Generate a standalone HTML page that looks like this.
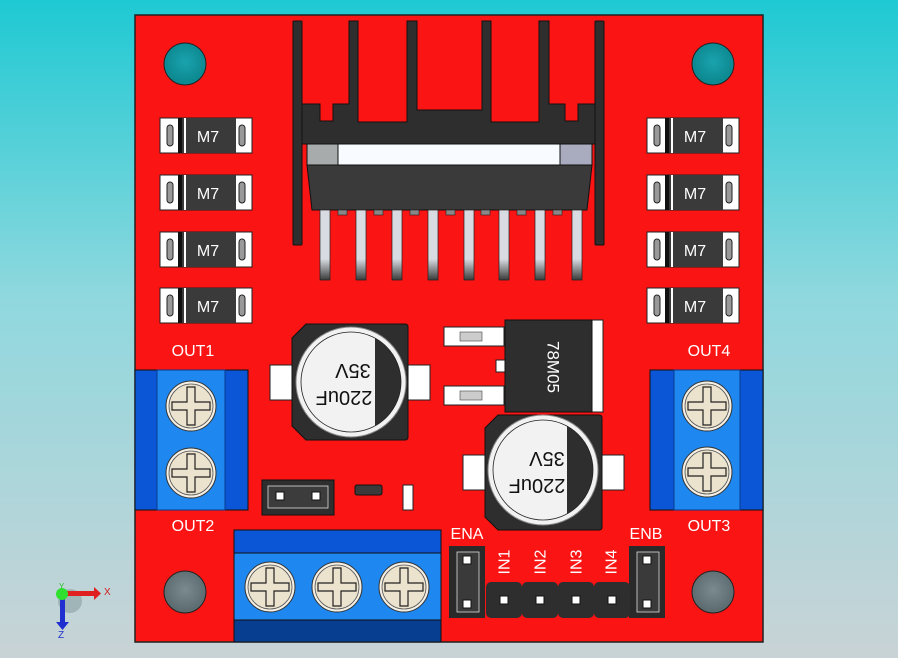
<!DOCTYPE html>
<html><head><style>html,body{margin:0;padding:0;}body{width:898px;height:658px;overflow:hidden;}</style></head>
<body>
<svg width="898" height="658" viewBox="0 0 898 658" xmlns="http://www.w3.org/2000/svg" font-family="Liberation Sans, sans-serif">
<defs>
<linearGradient id="bg" x1="0" y1="0" x2="0" y2="1">
<stop offset="0" stop-color="#1ec9d3"/><stop offset="0.45" stop-color="#8fd8de"/><stop offset="1" stop-color="#c9d3d6"/>
</linearGradient>
<linearGradient id="pin" x1="0" y1="0" x2="0" y2="1">
<stop offset="0" stop-color="#d8dce2"/><stop offset="0.7" stop-color="#d8dce2"/><stop offset="1" stop-color="#3a3a3a"/>
</linearGradient>
<radialGradient id="hole" cx="0.5" cy="0.45" r="0.5"><stop offset="0" stop-color="#1aa3ad"/><stop offset="1" stop-color="#0c8890"/></radialGradient>
<radialGradient id="ghole" cx="0.5" cy="0.45" r="0.5"><stop offset="0" stop-color="#7a8a8e"/><stop offset="1" stop-color="#5d6c70"/></radialGradient>
<clipPath id="c1"><circle cx="351" cy="382" r="50"/></clipPath>
<clipPath id="c2"><circle cx="543" cy="470" r="50"/></clipPath>
<g id="screw">
<circle r="25" fill="#f4efe4" stroke="#333" stroke-width="1"/>
<circle r="22" fill="#ece3cf" stroke="#555" stroke-width="0.8"/>
<path d="M-4,-19 H4 V-4 H19 V4 H4 V19 H-4 V4 H-19 V-4 H-4 Z" fill="#ece3cf" stroke="#222" stroke-width="1.2"/>
</g>
<g id="diode">
<rect x="0" y="0" width="92" height="35" fill="#fff" stroke="#222" stroke-width="1"/>
<rect x="18" y="0" width="58" height="35" fill="#3a3a3a"/>
<rect x="18" y="0" width="4" height="35" fill="#111"/>
<rect x="24" y="0" width="2" height="35" fill="#fff"/>
<rect x="7" y="7" width="6" height="21" rx="3" fill="#999" stroke="#222"/>
<rect x="79" y="7" width="6" height="21" rx="3" fill="#999" stroke="#222"/>
<text x="48" y="24" font-size="16" fill="#fff" text-anchor="middle">M7</text>
</g>
<g id="hdr">
<rect x="0" y="0" width="36" height="36" rx="5" fill="#2e2e2e"/>
<rect x="14" y="14" width="8" height="8" fill="#fff" stroke="#111"/>
</g>
<g id="jmp">
<rect x="0" y="0" width="36" height="72" fill="#2a2a2a"/>
<rect x="8" y="6" width="22" height="60" fill="#3a3a3a" stroke="#ddd" stroke-width="0.8"/>
<rect x="14" y="10" width="8" height="8" fill="#fff" stroke="#111"/>
<rect x="14" y="54" width="8" height="8" fill="#fff" stroke="#111"/>
</g>
</defs>
<rect width="898" height="658" fill="url(#bg)"/>
<rect x="135" y="15" width="628" height="627" fill="#fa1414" stroke="#222" stroke-width="1.5"/>
<circle cx="185" cy="64" r="21" fill="url(#hole)" stroke="#222"/>
<circle cx="713" cy="64" r="21" fill="url(#hole)" stroke="#222"/>
<circle cx="185" cy="592" r="21" fill="url(#ghole)" stroke="#222"/>
<circle cx="713" cy="592" r="21" fill="url(#ghole)" stroke="#222"/>
<use href="#diode" x="160" y="118"/><use href="#diode" x="160" y="175"/>
<use href="#diode" x="160" y="232"/><use href="#diode" x="160" y="288"/>
<use href="#diode" x="647" y="118"/><use href="#diode" x="647" y="175"/>
<use href="#diode" x="647" y="232"/><use href="#diode" x="647" y="288"/>
<g fill="#2e2e2e" stroke="#111" stroke-width="1">
<rect x="293" y="21" width="9" height="224" rx="1"/>
<rect x="595" y="21" width="9" height="224" rx="1"/>
<path d="M302,104 H320 V121 H333 V104 H349 V21 H358 V122 H407 V21 H417 V110 H482 V21 H491 V122 H539 V21 H549 V104 H565 V121 H578 V104 H595 V144 H302 Z"/>
</g>
<rect x="307" y="144" width="31" height="21" fill="#a7abab" stroke="#111"/>
<rect x="338" y="144" width="222" height="21" fill="#f8fbff" stroke="#111"/>
<rect x="560" y="144" width="32" height="21" fill="#a9acbf" stroke="#111"/>
<path d="M307,165 H592 L587,210 H312 Z" fill="#3a3a3a" stroke="#111"/>
<g fill="#888" stroke="#222" stroke-width="0.6">
<rect x="338" y="210" width="9" height="5"/><rect x="374" y="210" width="9" height="5"/><rect x="410" y="210" width="9" height="5"/><rect x="446" y="210" width="9" height="5"/><rect x="481" y="210" width="9" height="5"/><rect x="517" y="210" width="9" height="5"/><rect x="553" y="210" width="9" height="5"/>
</g>
<g fill="url(#pin)" stroke="#222" stroke-width="0.7">
<rect x="320" y="210" width="10" height="70"/><rect x="356" y="210" width="10" height="70"/><rect x="392" y="210" width="10" height="70"/><rect x="428" y="210" width="10" height="70"/><rect x="464" y="210" width="10" height="70"/><rect x="499" y="210" width="10" height="70"/><rect x="535" y="210" width="10" height="70"/><rect x="572" y="210" width="10" height="70"/>
</g>
<!-- cap1 -->
<rect x="270" y="365" width="24" height="35" fill="#fff" stroke="#222"/>
<rect x="406" y="365" width="24" height="35" fill="#fff" stroke="#222"/>
<path d="M306,324 H405 Q408,324 408,327 V437 Q408,440 405,440 H306 L292,426 V338 Z" fill="#2e2e2e" stroke="#111"/>
<circle cx="351" cy="382" r="55" fill="#f2f2f2" stroke="#888"/>
<rect x="375" y="320" width="50" height="130" fill="#2e2e2e" clip-path="url(#c1)"/>
<circle cx="351" cy="382" r="50" fill="none" stroke="#222" stroke-width="0.8"/>
<text x="353" y="370" font-size="20" text-anchor="middle" dominant-baseline="central" transform="rotate(180 353 370)" fill="#111">35V</text>
<text x="344" y="397" font-size="20" text-anchor="middle" dominant-baseline="central" transform="rotate(180 344 397)" fill="#111">220uF</text>
<!-- regulator -->
<rect x="444" y="327" width="60" height="19" fill="#fff" stroke="#222"/>
<rect x="460" y="332" width="22" height="9" fill="#ccc" stroke="#444" stroke-width="0.6"/>
<rect x="444" y="386" width="60" height="19" fill="#fff" stroke="#222"/>
<rect x="460" y="391" width="22" height="9" fill="#ccc" stroke="#444" stroke-width="0.6"/>
<rect x="496" y="360" width="9" height="12" fill="#fff" stroke="#222"/>
<rect x="590" y="320" width="13" height="92" fill="#fff" stroke="#222"/>
<rect x="505" y="320" width="87" height="92" fill="#2e2e2e" stroke="#111"/>
<text x="553" y="367" font-size="17" fill="#fff" text-anchor="middle" dominant-baseline="central" transform="rotate(90 553 367)">78M05</text>
<!-- cap2 -->
<rect x="463" y="455" width="24" height="35" fill="#fff" stroke="#222"/>
<rect x="600" y="455" width="24" height="35" fill="#fff" stroke="#222"/>
<path d="M498,415 H599 Q602,415 602,418 V527 Q602,530 599,530 H498 L485,517 V428 Z" fill="#2e2e2e" stroke="#111"/>
<circle cx="543" cy="470" r="55" fill="#f2f2f2" stroke="#888"/>
<rect x="567" y="410" width="50" height="130" fill="#2e2e2e" clip-path="url(#c2)"/>
<circle cx="543" cy="470" r="50" fill="none" stroke="#222" stroke-width="0.8"/>
<text x="547" y="458" font-size="20" text-anchor="middle" dominant-baseline="central" transform="rotate(180 547 458)" fill="#111">35V</text>
<text x="537" y="485" font-size="20" text-anchor="middle" dominant-baseline="central" transform="rotate(180 537 485)" fill="#111">220uF</text>
<!-- side terminals -->
<rect x="135" y="370" width="113" height="140" fill="#0b56d6" stroke="#111"/>
<rect x="157" y="370" width="68" height="140" fill="#1e88f0" stroke="#0a3a90"/>
<use href="#screw" x="191" y="406"/><use href="#screw" x="191" y="473"/>
<rect x="650" y="370" width="113" height="140" fill="#0b56d6" stroke="#111"/>
<rect x="674" y="370" width="66" height="140" fill="#1e88f0" stroke="#0a3a90"/>
<use href="#screw" x="707" y="406"/><use href="#screw" x="707" y="472"/>
<g fill="#fff" font-size="16" text-anchor="middle">
<text x="193" y="356">OUT1</text><text x="193" y="531">OUT2</text>
<text x="709" y="356">OUT4</text><text x="709" y="531">OUT3</text>
<text x="467" y="539">ENA</text><text x="646" y="539">ENB</text>
</g>
<!-- bottom terminal -->
<rect x="234" y="530" width="207" height="112" fill="#1e88f0" stroke="#111"/>
<rect x="234" y="530" width="207" height="23" fill="#0b56d6" stroke="#111"/>
<rect x="234" y="620" width="207" height="22" fill="#073e8f" stroke="#111"/>
<use href="#screw" x="270" y="587"/><use href="#screw" x="337" y="587"/><use href="#screw" x="404" y="587"/>
<rect x="262" y="480" width="72" height="35" fill="#2e2e2e" stroke="#111"/>
<rect x="268" y="486" width="60" height="22" fill="#3c3c3c" stroke="#ddd" stroke-width="0.8"/>
<rect x="276" y="492" width="8" height="8" fill="#fff" stroke="#111"/>
<rect x="312" y="492" width="8" height="8" fill="#fff" stroke="#111"/>
<rect x="355" y="485" width="27" height="10" rx="2" fill="#3a3a3a" stroke="#111"/>
<rect x="403" y="485" width="10" height="25" fill="#fff" stroke="#222"/>
<use href="#jmp" x="449" y="546"/><use href="#jmp" x="629" y="546"/>
<use href="#hdr" x="486" y="582"/><use href="#hdr" x="522" y="582"/><use href="#hdr" x="558" y="582"/><use href="#hdr" x="594" y="582"/>
<g fill="#fff" font-size="16" text-anchor="middle" dominant-baseline="central">
<text x="505" y="562" transform="rotate(-90 505 562)">IN1</text>
<text x="541" y="562" transform="rotate(-90 541 562)">IN2</text>
<text x="577" y="562" transform="rotate(-90 577 562)">IN3</text>
<text x="612" y="562" transform="rotate(-90 612 562)">IN4</text>
</g>
<circle cx="70" cy="601" r="12" fill="#7f9599" opacity="0.5"/>
<rect x="64" y="591" width="30" height="5" fill="#e02020"/>
<path d="M94,587 L101,593.5 L94,600 Z" fill="#e02020"/>
<rect x="60" y="596" width="5" height="27" fill="#2030d0"/>
<path d="M56,622 L69,622 L62.5,630 Z" fill="#2030d0"/>
<circle cx="62" cy="594" r="6" fill="#30e030"/>
<text x="104" y="595" font-size="10" fill="#d02020">X</text>
<text x="58" y="638" font-size="10" fill="#2030d0">Z</text>
<text x="59" y="589" font-size="8" fill="#30c030">Y</text>
</svg>
</body></html>
